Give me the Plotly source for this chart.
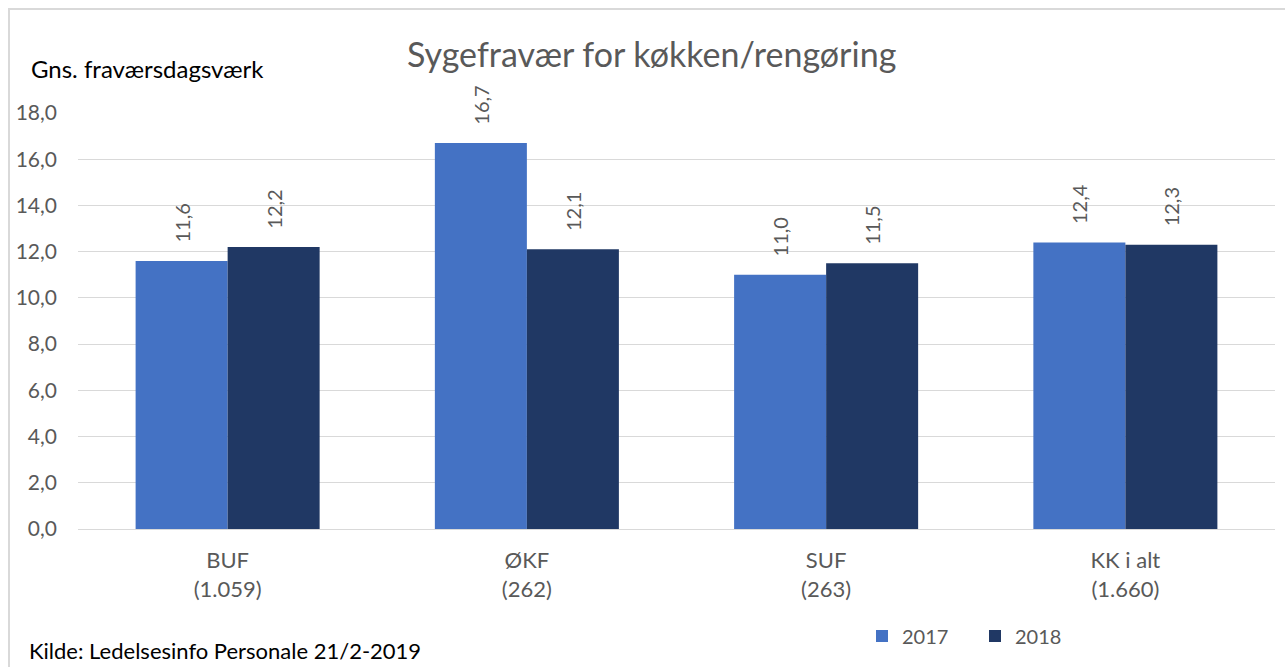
import plotly.graph_objects as go

categories = ["BUF<br>(1.059)", "ØKF<br>(262)", "SUF<br>(263)", "KK i alt<br>(1.660)"]
series_names = ["2017", "2018"]
values_2017 = [11.6, 16.7, 11.0, 12.4]
values_2018 = [12.2, 12.1, 11.5, 12.3]
colors = ["#4472C4", "#203864"]

FONT = "Lato"
GRAY = "#595959"
PAD = "\u00a0\u00a0\u00a0"

def fmt(v):
    return PAD + f"{v:.1f}".replace(".", ",")

fig = go.Figure()
for name, vals, col in zip(series_names, [values_2017, values_2018], colors):
    fig.add_trace(go.Bar(
        x=categories, y=vals, name=name, marker=dict(color=col, line=dict(width=0)),
        text=[fmt(v) for v in vals], textposition="outside", textangle=-90,
        textfont=dict(family=FONT, size=20, color=GRAY), cliponaxis=False,
    ))

W, H = 1285, 667
L, R, T, B = 78, 10, 113, 138
pw, ph = W - L - R, H - T - B

def px_x(x):
    return (x - L) / pw

def px_y(y):
    return (H - B - y) / ph

fig.update_layout(
    width=W, height=H, autosize=False,
    margin=dict(l=L, r=R, t=T, b=B),
    paper_bgcolor="white", plot_bgcolor="white",
    separators=",.",
    barmode="group", bargap=0.385, bargroupgap=0,
    font=dict(family=FONT, color=GRAY),
    yaxis=dict(range=[0, 18], dtick=2, tickformat=".1f", showgrid=True, gridcolor="#d9d9d9",
               gridwidth=1, zeroline=False, showline=False, ticks="",
               tickfont=dict(family=FONT, size=21, color=GRAY), ticklabelstandoff=20),
    xaxis=dict(showgrid=False, showline=True, linecolor="#d9d9d9", linewidth=1, ticks="",
               tickfont=dict(family=FONT, size=22, color=GRAY), ticklabelstandoff=12),
    showlegend=True,
    legend=dict(orientation="h", x=px_x(862), y=px_y(636), xanchor="left", yanchor="middle",
                font=dict(family=FONT, size=20, color=GRAY), itemwidth=30, traceorder="normal",
                entrywidth=68, entrywidthmode="pixels",
                bgcolor="rgba(0,0,0,0)"),
    annotations=[
        dict(text="Sygefravær for køkken/rengøring", xref="paper", yref="paper",
             x=px_x(651), y=px_y(53), xanchor="center", yanchor="middle", showarrow=False,
             font=dict(family=FONT, size=34, color=GRAY)),
        dict(text="Gns. fraværsdagsværk", xref="paper", yref="paper",
             x=px_x(29), y=px_y(68), xanchor="left", yanchor="middle", showarrow=False,
             font=dict(family=FONT, size=24, color="#000000")),
        dict(text="Kilde: Ledelsesinfo Personale 21/2-2019", xref="paper", yref="paper",
             x=px_x(27), y=px_y(650), xanchor="left", yanchor="middle", showarrow=False,
             font=dict(family=FONT, size=22, color="#000000")),
    ],
    shapes=[
        dict(type="rect", xref="paper", yref="paper", x0=px_x(9), x1=px_x(1300),
             y0=px_y(700), y1=px_y(9), line=dict(color="#d9d9d9", width=2), layer="below"),
    ],
)

fig.write_html("out.html", post_script="document.body.style.margin='0';",
               config={"displayModeBar": False})
